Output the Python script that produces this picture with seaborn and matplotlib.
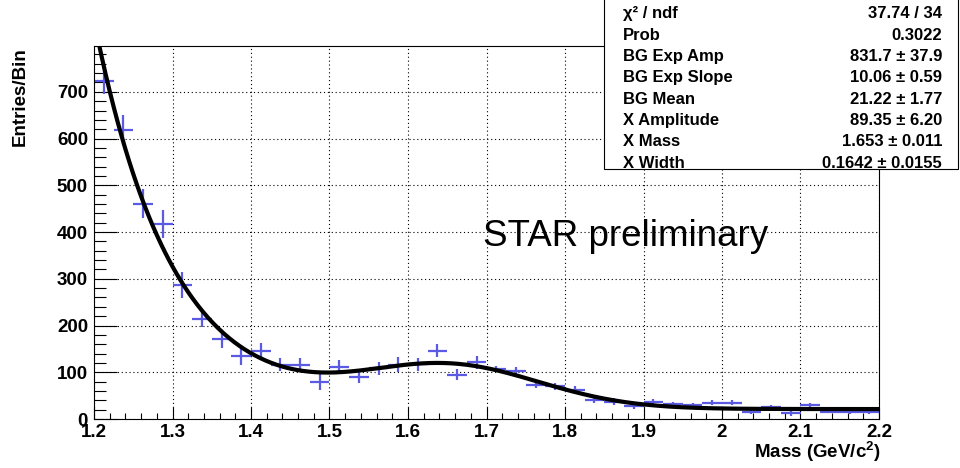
import numpy as np
import pandas as pd
import seaborn as sns
import matplotlib
matplotlib.use("Agg")
import matplotlib.pyplot as plt
from matplotlib.ticker import MultipleLocator, FixedLocator, FuncFormatter
from matplotlib.patches import Rectangle

# --- histogram: invariant mass, 40 bins between 1.2 and 2.2 GeV/c^2 ---
mass_lo, mass_hi, n_bins = 1.2, 2.2, 40
counts = [723, 619, 461, 417, 287, 214, 171, 134, 146, 116,
          116, 80, 112, 89, 109, 116, 117, 146, 95, 121,
          107, 102, 73, 70, 63, 41, 37, 27, 37, 32,
          30, 35, 35, 15, 25, 12, 30, 16, 15, 15]
errors = [28, 32, 32, 30, 28, 18, 19, 18, 16, 14,
          15, 18, 14, 12, 14, 16, 14, 14, 12, 13,
          7, 9, 7, 8, 8, 7, 7, 5, 5, 4,
          5, 5, 5, 5, 4, 5, 5, 4, 4, 4]

# --- fit result: exponential background + constant + gaussian-like peak ---
param_names = ["BG Exp Amp", "BG Exp Slope", "BG Mean",
               "X Amplitude", "X Mass", "X Width"]
param_values = [831.7, 10.06, 21.22, 89.35, 1.653, 0.1642]
param_errors = [37.9, 0.59, 1.77, 6.20, 0.011, 0.0155]
param_digits = [1, 2, 2, 2, 3, 4]
chi2, ndf, prob = 37.74, 34, 0.3022

y_ticks = [0, 100, 200, 300, 400, 500, 600, 700]

edges = np.linspace(mass_lo, mass_hi, n_bins + 1)
centers = 0.5 * (edges[:-1] + edges[1:])
half_width = 0.5 * (edges[1] - edges[0])
hist = pd.DataFrame({"mass": centers, "entries": counts, "err": errors})

def fit_func(x, p):
    amp, slope, const, xamp, xmass, xwidth = p
    return (amp * np.exp(-slope * (x - mass_lo)) + const
            + xamp * np.exp(-((x - xmass) / xwidth) ** 2))

xf = np.linspace(mass_lo, mass_hi, 600)
fit = pd.DataFrame({"mass": xf, "f": fit_func(xf, param_values)})

# --- style ---
sns.set_theme(style="white")
plt.rcParams["font.family"] = ["Liberation Sans", "DejaVu Sans"]
plt.rcParams["mathtext.fontset"] = "custom"
plt.rcParams["mathtext.rm"] = "Liberation Sans:bold"
plt.rcParams["mathtext.bf"] = "Liberation Sans:bold"
plt.rcParams["mathtext.default"] = "bf"

W, H = 960, 468
fig = plt.figure(figsize=(W / 100, H / 100), dpi=100)
fig.patch.set_facecolor("white")
ax = fig.add_axes([94 / W, 1 - 419 / H, 785 / W, 373 / H])
ax.set_facecolor("white")

data_color = "#5a5ae2"
ax.errorbar(hist["mass"], hist["entries"], xerr=half_width, yerr=hist["err"],
            fmt="none", ecolor=data_color, elinewidth=1.6, capsize=0, zorder=2)
sns.lineplot(data=fit, x="mass", y="f", ax=ax, color="black", linewidth=3.0,
             estimator=None, sort=False, zorder=3)

ax.set_xlim(mass_lo, mass_hi)
ax.set_ylim(0, 798)
ax.set_xlabel("")
ax.set_ylabel("")

ax.xaxis.set_major_locator(MultipleLocator(0.1))
ax.xaxis.set_minor_locator(MultipleLocator(0.02))
ax.yaxis.set_major_locator(FixedLocator(y_ticks))
ax.yaxis.set_minor_locator(MultipleLocator(20))
ax.xaxis.set_major_formatter(FuncFormatter(lambda v, _: f"{v:g}"))
ax.yaxis.set_major_formatter(FuncFormatter(lambda v, _: f"{v:g}"))

ax.tick_params(axis="both", which="both", direction="in", color="black",
               width=0.8, top=False, right=False, bottom=True, left=True)
ax.tick_params(axis="x", which="major", length=8.6, pad=3.5,
               labelsize=13.5, labelcolor="black")
ax.tick_params(axis="x", which="minor", length=4.3)
ax.tick_params(axis="y", which="major", length=16.5, pad=4.3,
               labelsize=13.5, labelcolor="black")
ax.tick_params(axis="y", which="minor", length=8.3)
for lab in ax.get_xticklabels() + ax.get_yticklabels():
    lab.set_fontweight("bold")

ax.grid(True, which="major", color="black", linestyle=(0, (1, 2.5)),
        linewidth=0.8)
ax.set_axisbelow(True)
for s in ax.spines.values():
    s.set_color("black")
    s.set_linewidth(0.8)

# axis titles
fig.text(20 / W, 1 - 47 / H, "Entries/Bin", rotation=90, ha="center",
         va="top", fontsize=13.5, fontweight="bold", color="black")
fig.text(881 / W, 1 - 458 / H, r"Mass (GeV/c$^{2}$)", ha="right",
         va="baseline", fontsize=13.5, fontweight="bold", color="black")

fig.text(483 / W, 1 - 246.5 / H, "STAR preliminary", ha="left",
         va="baseline", fontsize=26.5, color="black")

# fit statistics box
box_l, box_r, box_b = 604, 958, 169
fig.add_artist(Rectangle((box_l / W, 1 - box_b / H), (box_r - box_l) / W,
                         box_b / H + 0.01, transform=fig.transFigure,
                         facecolor="white", edgecolor="black",
                         linewidth=0.8, zorder=5))

rows = [("χ² / ndf", f"{chi2:.2f} / {ndf}"), ("Prob", f"{prob:.4f}")]
for name, v, e, d in zip(param_names, param_values, param_errors, param_digits):
    rows.append((name, f"{v:.{d}f} ± {e:.{d}f}"))

for i, (name, val) in enumerate(rows):
    yb = 1 - (12.3 + 21.35 * i + 5.9) / H
    fig.text(623 / W, yb, name, ha="left", va="baseline", fontsize=12,
             fontweight="bold", color="black", zorder=6)
    fig.text(942 / W, yb, val, ha="right", va="baseline", fontsize=12,
             fontweight="bold", color="black", zorder=6)

fig.savefig("out.png", dpi=100)
